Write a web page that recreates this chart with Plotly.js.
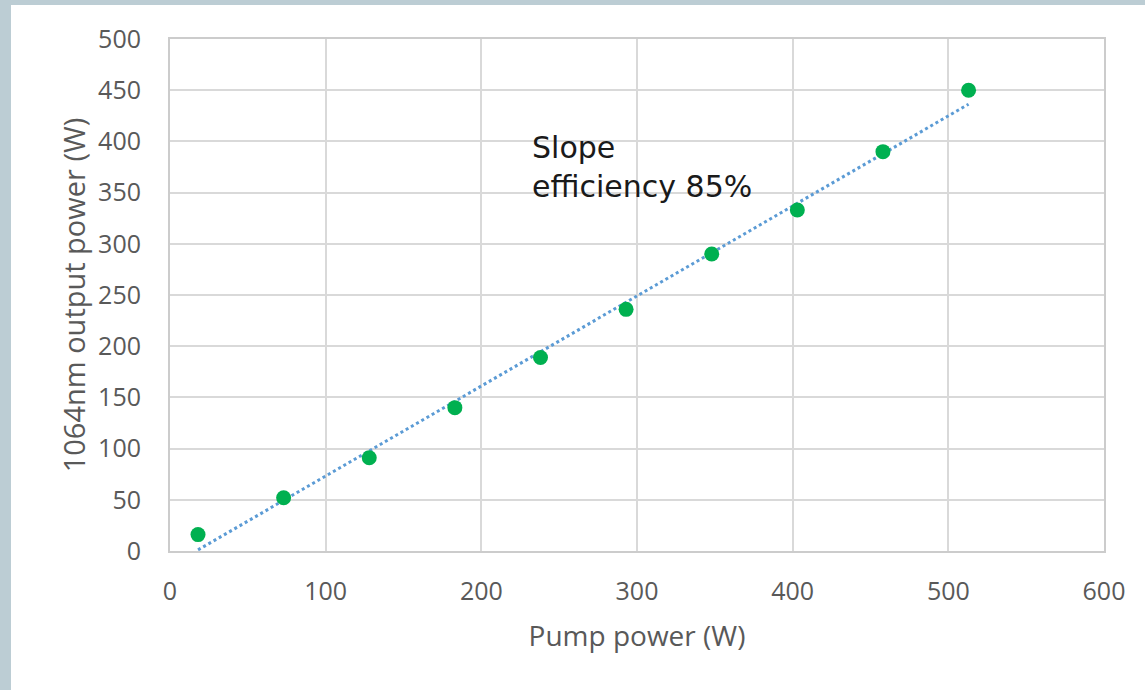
<!DOCTYPE html>
<html>
<head>
<meta charset="utf-8">
<script src="https://cdn.plot.ly/plotly-3.0.1.min.js"></script>
<style>
  html, body { margin: 0; padding: 0; width: 1145px; height: 690px; overflow: hidden; background: #bccdd4; }
  #chart { position: absolute; left: 11px; top: 5px; width: 1134px; height: 685px; background: #ffffff; }
</style>
</head>
<body>
<div id="chart"></div>
<script>
const pumpPower = [18, 73, 128, 183, 238, 293, 348, 403, 458, 513];
const outputPower = [16, 52, 91, 140, 189, 236, 290, 333, 390, 450];
const xTicks = [0, 100, 200, 300, 400, 500, 600];
const yTicks = [0, 50, 100, 150, 200, 250, 300, 350, 400, 450, 500];
const annotationText = "Slope<br>efficiency 85%";
const xTitle = "Pump power (W)";
const yTitle = "1064nm output power (W)";

// Linear least-squares trendline (as the spreadsheet trendline does)
const n = pumpPower.length;
const mx = pumpPower.reduce((a, b) => a + b, 0) / n;
const my = outputPower.reduce((a, b) => a + b, 0) / n;
let sxy = 0, sxx = 0;
for (let i = 0; i < n; i++) { sxy += (pumpPower[i] - mx) * (outputPower[i] - my); sxx += (pumpPower[i] - mx) ** 2; }
const slope = sxy / sxx, intercept = my - slope * mx;
const xStart = Math.max(pumpPower[0], -intercept / slope);
const trendX = [xStart, pumpPower[n - 1]];
const trendY = trendX.map(x => slope * x + intercept);

const font = "'Open Sans', 'Noto Sans', sans-serif";
const traces = [
  { x: trendX, y: trendY, mode: 'lines', type: 'scatter',
    line: { color: '#5b9bd5', width: 3, dash: 'dot' }, hoverinfo: 'skip', showlegend: false },
  { x: pumpPower, y: outputPower, mode: 'markers', type: 'scatter',
    marker: { color: '#00b050', size: 15 }, showlegend: false }
];

const axisCommon = {
  showgrid: true, gridcolor: '#d9d9d9', gridwidth: 2,
  showline: true, linecolor: '#cccccc', linewidth: 2, mirror: true,
  zeroline: false, ticks: 'outside', tickcolor: 'rgba(0,0,0,0)',
  tickfont: { family: font, size: 25, color: '#595959' }
};

const layout = {
  width: 1134, height: 685,
  margin: { l: 159, r: 41, t: 34, b: 139 },
  paper_bgcolor: '#ffffff', plot_bgcolor: '#ffffff',
  xaxis: Object.assign({}, axisCommon, {
    range: [0, 600], tickvals: xTicks, ticktext: xTicks.map(String), ticklen: 17,
    title: { text: xTitle, font: { family: font, size: 28, color: '#595959' }, standoff: 20 }
  }),
  yaxis: Object.assign({}, axisCommon, {
    range: [0, 500], tickvals: yTicks, ticktext: yTicks.map(String), ticklen: 22,
    title: { text: yTitle, font: { family: font, size: 29, color: '#595959' }, standoff: 4 }
  }),
  annotations: [{
    x: 231, y: 413, xref: 'x', yref: 'y', xanchor: 'left', yanchor: 'top', align: 'left',
    text: annotationText, showarrow: false,
    font: { family: "'DejaVu Sans', sans-serif", size: 30, color: '#1a1a1a' }
  }]
};

Plotly.newPlot('chart', traces, layout, { displayModeBar: false, staticPlot: true });
</script>
</body>
</html>
